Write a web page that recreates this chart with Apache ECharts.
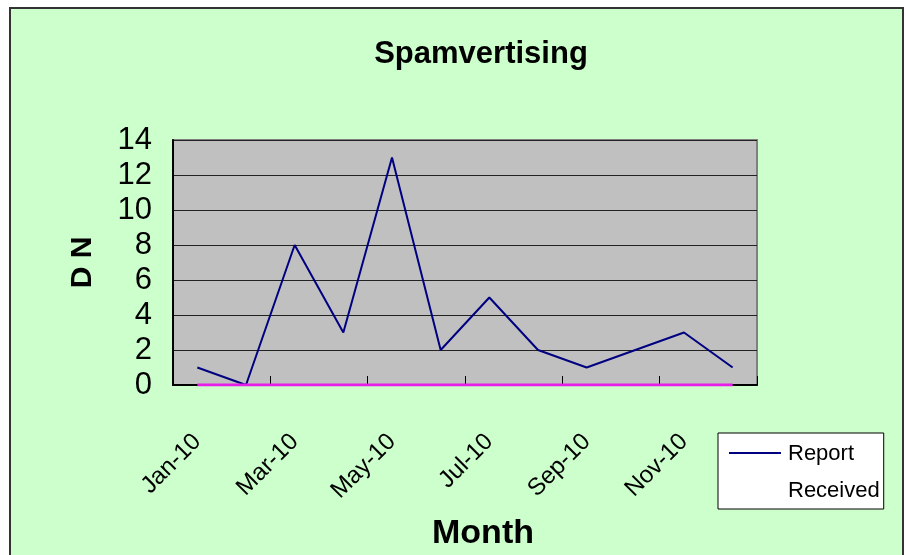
<!DOCTYPE html>
<html>
<head>
<meta charset="utf-8">
<script src="https://cdn.jsdelivr.net/npm/echarts@6/dist/echarts.min.js"></script>
<style>
  html, body { margin: 0; padding: 0; background: #fff; }
  #chart { width: 906px; height: 555px; }
</style>
</head>
<body>
<div id="chart"></div>
<script>
const months = ["Jan-10", "Feb-10", "Mar-10", "Apr-10", "May-10", "Jun-10",
  "Jul-10", "Aug-10", "Sep-10", "Oct-10", "Nov-10", "Dec-10"];
const reportReceived = [1, 0, 8, 3, 13, 2, 5, 2, 1, 2, 3, 1];
const spammed = [0, 0, 0, 0, 0, 0, 0, 0, 0, 0, 0, 0];
const yTicks = { min: 0, max: 14, step: 2 };

const font = "'Liberation Sans', Arial, sans-serif";

const chart = echarts.init(document.getElementById("chart"));
chart.setOption({
  backgroundColor: "#fff",
  animation: false,
  graphic: [
    {
      type: "rect",
      z: -10,
      shape: { x: 10, y: 8, width: 893, height: 560 },
      style: { fill: "#CCFFCC", stroke: "#333", lineWidth: 2 }
    }
  ],
  title: {
    text: "Spamvertising",
    left: 476,
    top: 34,
    textAlign: "center",
    textStyle: { fontFamily: font, fontWeight: "bold", fontSize: 31, color: "#000" }
  },
  legend: {
    left: 718,
    top: 433,
    orient: "vertical",
    data: ["Report Received"],
    formatter: function (name) { return name.replace(" ", "\n"); },
    backgroundColor: "#fff",
    borderColor: "#000",
    borderWidth: 1,
    borderRadius: 0,
    padding: [2, 4, 0, 11],
    itemWidth: 52,
    itemHeight: 74,
    // line sits next to the first text line
    icon: "path://M0,0 L0,0 M0,17 L52,17 L52,19 L0,19 Z M0,74 L0,74",
    textStyle: { fontFamily: font, fontSize: 22, color: "#000", lineHeight: 37, padding: [0, 0, 0, 2] }
  },
  grid: {
    left: 173, right: 149, top: 140, bottom: 170, outerBoundsMode: "none",
    show: true, backgroundColor: "#C0C0C0", borderColor: "#808080", borderWidth: 2
  },
  xAxis: {
    type: "category",
    data: months,
    boundaryGap: true,
    name: "Month",
    nameLocation: "middle",
    nameGap: 132,
    nameTextStyle: { fontFamily: font, fontWeight: "bold", fontSize: 34, color: "#000", padding: [0, 0, 0, 36] },
    axisLine: { lineStyle: { color: "#000", width: 2 } },
    axisTick: { show: true, inside: true, length: 9, interval: 1, lineStyle: { color: "#000" } },
    axisLabel: {
      interval: 1,
      rotate: 45,
      margin: 53,
      fontFamily: font,
      fontSize: 24,
      color: "#000"
    },
    splitLine: { show: false }
  },
  yAxis: {
    type: "value",
    min: yTicks.min,
    max: yTicks.max,
    interval: yTicks.step,
    name: "D N",
    nameLocation: "middle",
    nameGap: 75,
    nameTextStyle: { fontFamily: font, fontWeight: "bold", fontSize: 30, color: "#000" },
    axisLine: { show: true, lineStyle: { color: "#000", width: 2 } },
    axisTick: { show: false },
    axisLabel: { margin: 21, fontFamily: font, fontSize: 31, color: "#000" },
    splitLine: { show: true, lineStyle: { color: "#222", width: 1 } }
  },
  series: [
    {
      name: "Report Received",
      type: "line",
      data: reportReceived,
      symbol: "none",
      lineStyle: { color: "#000080", width: 2 },
      itemStyle: { color: "#000080" },
      z: 3
    },
    {
      name: "Spammed",
      type: "line",
      data: spammed,
      symbol: "none",
      lineStyle: { color: "#E81CE8", width: 3 },
      itemStyle: { color: "#E81CE8" },
      z: 4
    }
  ]
});
</script>
</body>
</html>
